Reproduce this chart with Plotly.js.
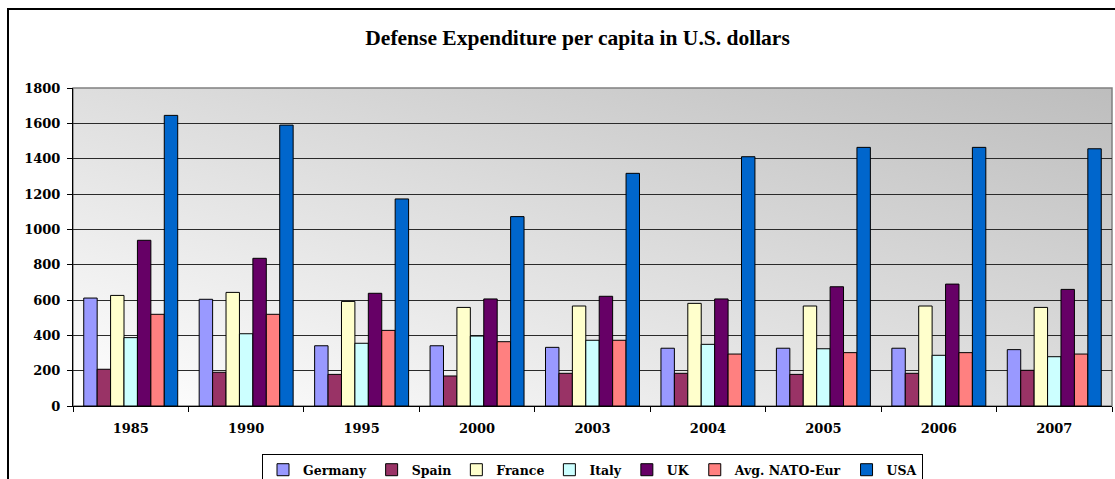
<!DOCTYPE html>
<html>
<head>
<meta charset="utf-8">
<script src="https://cdn.plot.ly/plotly-3.0.1.min.js"></script>
<style>
  html, body { margin: 0; padding: 0; background: #fff; }
  #wrap { position: relative; width: 1115px; height: 479px; overflow: hidden; }
  #chart { position: absolute; left: 0; top: 0; width: 1115px; height: 479px; }
  #frame { position: absolute; left: 7px; top: 8px; width: 1200px; height: 600px;
           border-left: 2px solid #000; border-top: 2px solid #000; pointer-events: none; }
</style>
</head>
<body>
<div id="wrap">
  <div id="chart"></div>
  <div id="frame"></div>
</div>
<script>
const years = ['1985', '1990', '1995', '2000', '2003', '2004', '2005', '2006', '2007'];
const germany = [611, 604, 341, 341, 332, 327, 327, 327, 319];
const spain   = [208, 191, 179, 170, 185, 185, 179, 185, 202];
const france  = [626, 643, 592, 558, 566, 581, 566, 566, 558];
const italy   = [387, 409, 355, 396, 372, 349, 324, 287, 279];
const uk      = [938, 836, 638, 606, 621, 606, 675, 690, 660];
const nato    = [519, 519, 428, 364, 372, 294, 302, 302, 294];
const usa     = [1645, 1590, 1172, 1072, 1317, 1411, 1464, 1464, 1456];

const seriesNames  = ['Germany', 'Spain', 'France', 'Italy', 'UK', 'Avg. NATO-Eur', 'USA'];
const seriesValues = [germany, spain, france, italy, uk, nato, usa];
const seriesColors = ['#9999FF', '#993366', '#FFFFCC', '#CCFFFF', '#660066', '#FF8080', '#0066CC'];

const traces = seriesNames.map((name, i) => ({
  type: 'bar',
  name: name,
  x: years,
  y: seriesValues[i],
  marker: { color: seriesColors[i], line: { color: '#000', width: 1 } },
  hoverinfo: 'x+y+name'
}));

const svg = '<svg xmlns="http://www.w3.org/2000/svg" width="100" height="100" preserveAspectRatio="none">' +
  '<defs><linearGradient id="g" x1="0" y1="1" x2="1" y2="0">' +
  '<stop offset="0" stop-color="#ffffff"/><stop offset="1" stop-color="#bdbdbd"/>' +
  '</linearGradient></defs><rect width="100" height="100" fill="url(#g)"/></svg>';
const bgSrc = 'data:image/svg+xml;charset=utf-8,' + encodeURIComponent(svg);

const serif = 'DejaVu Serif, serif';

const layout = {
  width: 1115,
  height: 479,
  margin: { l: 73, r: 3, t: 88, b: 73 },
  paper_bgcolor: 'rgba(0,0,0,0)',
  plot_bgcolor: 'rgba(0,0,0,0)',
  title: {
    text: '<b>Defense Expenditure per capita in U.S. dollars</b>',
    font: { family: 'Liberation Serif, serif', size: 21.5, color: '#000' },
    x: 0.518, xanchor: 'center',
    y: 0.921, yanchor: 'middle'
  },
  barmode: 'group',
  bargap: 0.186,
  bargroupgap: 0,
  showlegend: true,
  legend: {
    orientation: 'h',
    xref: 'paper',
    x: 0.5, xanchor: 'center',
    yref: 'container',
    y: 0.052, yanchor: 'top',
    bgcolor: '#fff',
    bordercolor: '#000',
    borderwidth: 1,
    font: { family: serif, size: 12.5, color: '#000', weight: 'bold' },
    traceorder: 'normal',
    itemwidth: 30
  },
  xaxis: {
    type: 'category',
    tickson: 'boundaries',
    ticks: 'outside',
    ticklen: 5,
    tickcolor: '#000',
    showline: true,
    linecolor: '#000',
    linewidth: 1,
    showgrid: false,
    automargin: false,
    ticklabelstandoff: 10,
    tickfont: { family: serif, size: 13, color: '#000', weight: 'bold' },
    fixedrange: true
  },
  yaxis: {
    range: [0, 1800],
    dtick: 200,
    ticks: 'outside',
    ticklen: 5,
    tickcolor: '#000',
    showline: true,
    linecolor: '#000',
    linewidth: 1,
    showgrid: true,
    gridcolor: '#2a2a2a',
    gridwidth: 1,
    zeroline: false,
    automargin: false,
    tickfont: { family: serif, size: 13, color: '#000', weight: 'bold' },
    ticklabelstandoff: 4,
    fixedrange: true
  },
  images: [{
    source: bgSrc,
    xref: 'paper', yref: 'paper',
    x: 0, y: 1, sizex: 1, sizey: 1,
    xanchor: 'left', yanchor: 'top',
    sizing: 'stretch',
    layer: 'below'
  }],
  shapes: [{
    type: 'rect', xref: 'paper', yref: 'paper',
    x0: 0, x1: 1, y0: 0, y1: 1,
    line: { color: '#808080', width: 1.5 },
    layer: 'below'
  }]
};

Plotly.newPlot('chart', traces, layout, { displayModeBar: false });
</script>
</body>
</html>
